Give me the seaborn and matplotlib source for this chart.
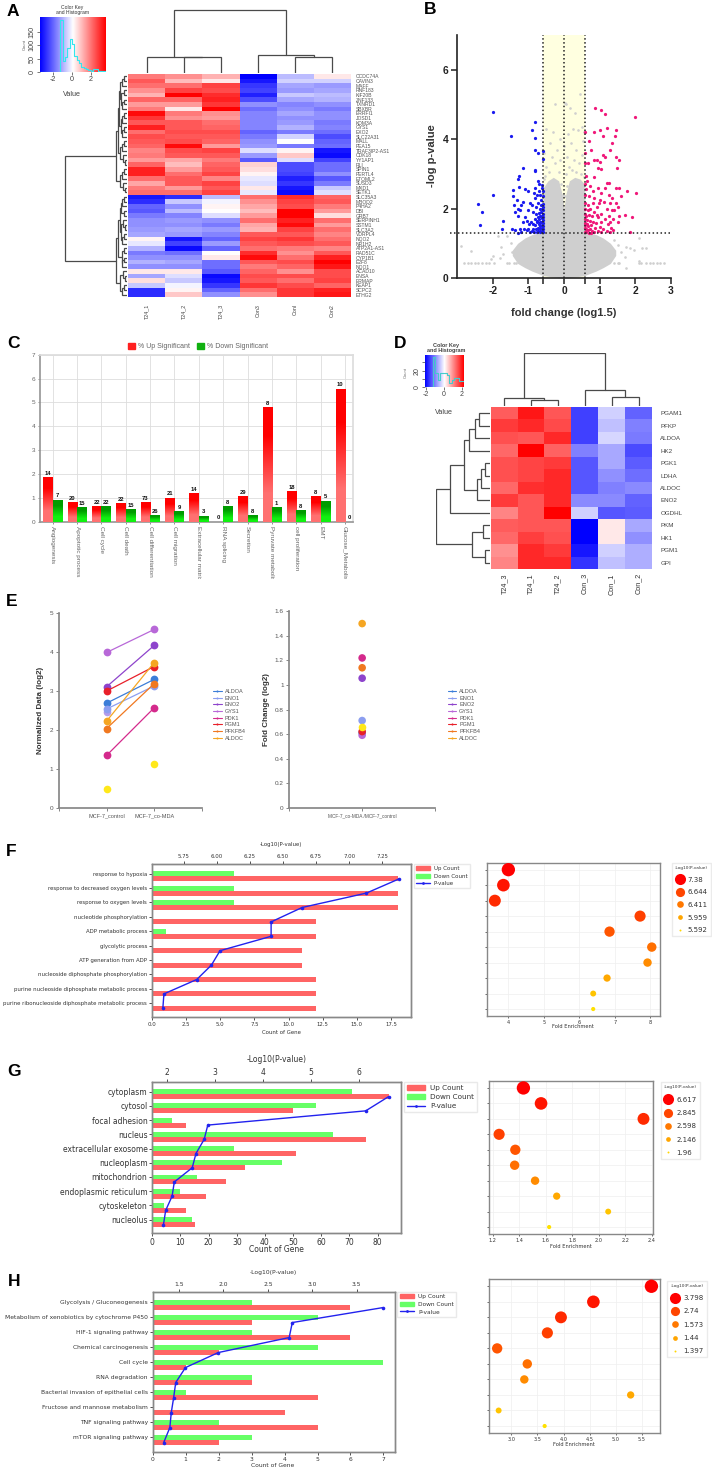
import numpy as np
import pandas as pd
import matplotlib
matplotlib.use('Agg')
import matplotlib.pyplot as plt
from matplotlib.colors import LinearSegmentedColormap
from matplotlib.lines import Line2D
from matplotlib.patches import Patch
from matplotlib.transforms import Bbox
import seaborn as sns

W, H = 712, 1468
SANS = 'Liberation Sans'

# ---- panel A data
a_genes = ['CCDC74A', 'CAVIN3', 'MAFF', 'RNF183', 'KIF20B', 'ZNF133', 'TXNRD1', 'SBXBR', 'ERRFI1', 'JOSD1',
           'KDM3A', 'GYS1', 'EXO2', 'SLC22A31', 'MALL', 'PEA15', 'TRAF3IP2-AS1', 'CDK18', 'YY1AP1', 'RLI',
           'SPIN1', 'PERTL4', 'ETOML2', 'SUSD3', 'MXD1', 'SETK1', 'SLC35A3', 'MBOD2', 'P4HA2', 'DBI',
           'GRB7', 'SERPINH1', 'SSTM1', 'SLC3A2', 'VDRPL4', 'NQO2', 'NR1H2', 'ATP2A1-AS1', 'RAD51C', 'CYP1B1',
           'E2F8', 'NQO1', 'ACAD10', 'ENSA', 'ERMAP', 'KEAP1', 'SCPC2', 'ETHG2']
a_t24_1 = [1.2, 1.5, 1.3, 1.0, 0.7, 1.4, 0.9, 1.2, 2.2, 1.8, 1.5, 2.0, 1.3, 1.6, 1.5, 1.4, 1.1, 1.2, 0.9, 1.4, 2.0, 2.0, 1.3, 0.8, 1.2, 1.3,
           -2.1, -1.9, -1.4, -1.5, -1.2, -1.0, -1.0, -0.9, -0.8, 0.1, -0.2, -0.7, -1.2, -1.0, -0.7, -1.0, 0.2, -0.8, 0.3, -0.5, -1.9, -1.9]
a_t24_2 = [1.0, 0.6, 1.3, 1.7, 2.3, 1.4, 0.9, 0.2, 1.2, 1.0, 1.5, 1.5, 1.6, 1.5, 1.6, 2.2, 1.6, 1.5, 0.8, 0.6, 0.9, 1.3, 1.5, 1.5, 0.9, 1.3,
           -1.9, -0.5, -1.0, -0.6, -1.1, -0.9, -1.0, -0.8, -0.9, -2.1, -1.7, -2.2, -1.3, -1.0, -0.8, -1.0, 0.2, -0.3, -0.5, -0.1, 0.1, 0.5]
a_t24_3 = [0.7, 0.2, 1.7, 1.6, 1.9, 2.0, 1.8, 2.4, 1.0, 0.9, 1.3, 1.4, 1.6, 1.5, 1.4, 0.9, 1.7, 1.5, 1.2, 1.4, 1.5, 1.7, 1.1, 1.7, 1.5, 1.7,
           -0.6, -0.1, 0.1, 0.0, -0.3, -1.0, -1.2, -0.9, -1.1, -1.4, -0.9, -1.4, 0.0, 0.2, -1.3, -1.3, -1.5, -2.2, -2.1, -1.8, -1.4, -1.0]
a_con3 = [-2.3, -2.1, -1.8, -1.7, -2.0, -1.6, -1.0, -1.3, -1.1, -1.1, -1.1, -1.1, -1.4, -1.2, -1.0, -0.9, -0.3, -0.9, -1.5, 0.4, 0.3, 0.1, -0.2, -0.3, 0.2, -0.2,
          1.3, 1.0, 0.8, 0.6, 0.9, 1.3, 0.8, 0.7, 1.5, 1.7, 1.5, 1.3, 1.9, 2.2, 1.5, 1.2, 1.4, 1.6, 1.5, 1.8, 1.3, 1.0]
a_conl = [-0.6, -0.4, -0.8, -0.9, -0.5, -0.8, -1.1, -1.0, -0.8, -1.0, -0.9, -0.7, -1.2, -0.4, 0.0, -1.2, 0.1, 0.5, -0.3, -1.6, -1.6, -1.7, -2.0, -1.8, -2.1, -2.2,
          1.9, 1.7, 1.6, 2.3, 2.4, 2.0, 2.2, 1.7, 1.5, 1.8, 1.6, 1.2, 1.0, 1.3, 1.6, 1.4, 1.0, 1.6, 1.3, 1.6, 1.8, 1.8]
a_con2 = [0.2, -0.4, -0.9, -0.8, -0.6, -0.7, -1.0, -1.2, -1.0, -1.0, -1.2, -1.1, -1.3, -1.6, -1.4, -1.3, -2.1, -2.2, -1.7, -1.3, -1.3, -1.0, -1.5, -1.2, -0.5, -0.3,
          1.4, 1.5, 1.2, 0.9, 0.3, 1.3, 0.9, 1.3, 1.1, 1.3, 1.5, 1.1, 1.5, 2.0, 2.3, 2.1, 1.6, 1.6, 1.7, 1.4, 2.0, 2.1]
a_samples = ['T24_1', 'T24_2', 'T24_3', 'Con3', 'Conl', 'Con2']
a_hist_edges = [-3.4, -1.25, -1.0, -0.75, -0.5, -0.25, 0, 0.25, 0.5, 0.75, 1, 1.25, 1.5, 1.75, 2, 2.25, 2.5, 2.75, 3, 3.6]
a_hist_counts = [0, 192, 42, 57, 91, 122, 105, 60, 45, 32, 20, 14, 10, 7, 5, 10, 10, 5, 5]

# dendrograms: (height, left, right), a 0 is a leaf
q2 = (.05, 0, 0)
q3 = (.08, (.05, 0, 0), 0)
q3b = (.07, 0, (.04, 0, 0))
a_upper = (.18, (.15, (.13, (.11, q3, (.09, q2, q3)), (.10, q3, q3)), (.12, q3, q3b)), (.12, q3, q3b))
a_lower = (.18, (.14, (.12, (.09, q3, q2), (.10, q3b, q3)), (.08, q2, q3)), (.11, q3b, q3))
a_row_tree = (1.0, a_upper, a_lower)
a_col_tree = (1.0, (.26, 0, (.25, 0, 0)), (.28, 0, (.245, 0, 0)))

cloud_x = [-1.45, -1.3, -1.1, -.9, -.7, -.6, -.58, -.45, -.3, -.15, -.05, 0, .05, .15, .3, .45, .58, .6, .7, .9, 1.1, 1.3, 1.45]
cloud_low = [.65, .42, .3, .2, .12, .08, .07, .05, .03, .01, 0, 0, 0, .01, .03, .05, .07, .08, .12, .2, .3, .42, .65]
cloud_high = [.8, 1.0, 1.15, 1.25, 1.3, 1.3, 2.6, 2.8, 2.9, 2.8, 2.4, 2.0, 2.4, 2.8, 2.9, 2.85, 2.7, 1.3, 1.3, 1.25, 1.15, 1.0, .8]
gray_points = [(-2.8, .42), (-2.7, .42), (-2.6, .42), (-2.5, .42), (-2.4, .42), (-2.3, .42), (-2.2, .42), (-2.1, .42), (-1.95, .42),
               (-1.6, .42), (-1.55, .42), (-1.4, .42), (-1.35, .42), (1.4, .42), (1.5, .42), (1.55, .42), (2.1, .42), (2.15, .42), (2.3, .42),
               (2.4, .42), (2.5, .42), (2.6, .42), (2.7, .42), (2.8, .42), (-2.9, .92), (-2.6, .78), (-2.0, .62), (-1.8, .58), (-1.78, .9),
               (-1.85, 1.2), (-1.6, 1.2), (-1.5, 1.0), (-1.45, .75), (-1.7, .7), (-2.05, .55), (1.7, .6), (1.75, .9), (1.85, .85), (1.95, .8),
               (2.1, 1.15), (2.2, .85), (2.3, .85), (1.5, .95), (1.6, .75), (1.75, .3), (2.1, .5), (1.4, 1.1),
               (-.25, 5.0), (.03, 5.05), (.05, 5.0), (.18, 4.9), (.3, 4.75), (.45, 5.3), (-.5, 4.3), (-.3, 4.2), (-.1, 4.0), (.1, 4.15), (.25, 4.3),
               (.4, 4.25), (.5, 4.35), (.55, 4.2), (-.4, 3.9), (-.2, 3.7), (.0, 3.8), (.2, 3.9), (.35, 3.7), (.52, 3.95), (-.55, 3.6), (-.35, 3.5),
               (-.25, 3.3), (-.1, 3.4), (.08, 3.5), (.15, 3.2), (.28, 3.4), (.42, 3.3), (.5, 3.55), (-.5, 3.2), (-.42, 3.05), (-.15, 3.05), (.05, 3.0),
               (.22, 3.1), (.35, 3.05), (.48, 3.0), (-.52, 2.95), (.55, 2.9), (-.56, 2.85), (-.08, 2.7), (.08, 2.65), (-.03, 2.4), (.03, 2.35)]
blue_points = [(-2.0, 4.77), (-1.5, 4.1), (-2.42, 2.13), (-2.0, 2.38), (-2.3, 1.9), (-2.35, 1.52), (-1.7, 1.63), (-1.74, 1.42), (-1.45, 1.42),
               (-1.27, 2.95), (-1.15, 3.17), (-.82, 3.1), (-.8, 3.08), (-.82, 4.5), (-.9, 4.25), (-.8, 4.03), (-.82, 3.7), (-.72, 3.6), (-.58, 3.65),
               (-.6, 3.42), (-1.42, 2.53), (-1.25, 2.62), (-1.1, 2.55), (-1.0, 2.5), (-.72, 2.78), (-.7, 2.7), (-.62, 2.68), (-.8, 2.6), (-1.28, 2.85),
               (-.59, 1.32), (-.6, 1.4), (-.59, 1.5), (-.6, 1.58), (-.59, 1.66), (-.6, 1.75), (-.59, 1.85), (-.6, 1.95), (-.59, 2.05), (-.6, 2.12),
               (-.62, 1.35), (-.63, 1.44), (-.62, 1.53), (-.64, 1.62), (-.63, 1.72), (-.62, 1.8), (-.64, 1.9), (-.63, 2.0), (-.65, 2.1), (-.66, 1.32),
               (-.67, 1.42), (-.68, 1.5), (-.66, 1.6), (-.69, 1.7), (-.67, 1.78), (-.7, 1.88), (-.68, 1.98), (-.72, 1.35), (-.74, 1.45), (-.71, 1.55),
               (-.75, 1.65), (-.73, 1.75), (-.76, 1.32), (-.78, 1.4), (-.8, 1.52), (-.77, 1.6), (-.82, 1.7), (-.79, 1.85), (-.84, 1.33), (-.87, 1.42),
               (-.9, 1.36), (-.86, 1.55), (-.92, 1.6), (-.95, 1.33), (-1.0, 1.42), (-1.05, 1.38), (-.98, 1.55), (-.88, 1.9), (-.78, 2.05), (-.72, 2.15),
               (-.64, 2.25), (-.6, 2.35), (-.66, 2.4), (-.6, 2.5), (-.7, 2.5), (-.62, 2.6), (-.75, 2.4), (-.82, 2.3), (-.9, 2.1), (-1.0, 1.95),
               (-1.08, 1.75), (-1.15, 1.6), (-1.2, 1.33), (-1.3, 1.3), (-1.22, 1.42), (-1.3, 1.78), (-1.38, 1.9), (-1.4, 2.1), (-1.3, 2.0), (-1.2, 2.1),
               (-1.22, 1.95), (-1.15, 2.2), (-1.32, 2.25), (-1.42, 2.35), (-.95, 2.15), (-.85, 2.45), (-1.12, 1.42), (-1.38, 1.38), (-1.05, 1.65)]
pink_points = [(.88, 4.9), (1.05, 4.85), (1.15, 4.72), (1.98, 4.63), (.6, 4.2), (.85, 4.22), (1.02, 4.25), (1.2, 4.33), (1.47, 4.25), (1.1, 4.1),
               (1.42, 4.1), (.7, 3.95), (1.35, 3.88), (.75, 3.7), (1.3, 3.68), (.58, 3.6), (1.1, 3.55), (1.15, 3.5), (1.45, 3.48), (1.55, 3.4),
               (.68, 3.3), (.85, 3.4), (.92, 3.4), (1.0, 3.35), (1.48, 3.18), (.6, 3.3), (.95, 3.18), (1.05, 3.15), (.62, 2.95), (.65, 2.8), (.85, 2.9),
               (1.2, 2.75), (1.27, 2.75), (1.15, 2.6), (1.45, 2.6), (1.55, 2.6), (1.78, 2.52), (2.02, 2.45), (1.6, 2.35), (1.9, 1.75), (1.72, 1.82),
               (1.55, 1.78), (1.5, 1.6), (1.85, 1.32), (.6, 2.7), (.63, 2.55), (.72, 2.65), (.8, 2.5), (.95, 2.6), (1.05, 2.45), (1.25, 2.4), (1.35, 2.3),
               (.6, 2.4), (.7, 2.35), (.85, 2.3), (1.0, 2.25), (1.12, 2.2), (1.3, 2.15), (1.45, 2.15), (1.5, 2.05), (.6, 2.15), (.68, 2.1), (.8, 2.15),
               (.92, 2.05), (.98, 2.15), (1.2, 2.0), (1.35, 1.95), (.6, 2.0), (.66, 1.95), (.72, 1.98), (.85, 1.9), (1.05, 1.85), (1.25, 1.8),
               (1.38, 1.7), (.59, 1.85), (.62, 1.8), (.7, 1.82), (.78, 1.78), (.95, 1.75), (1.15, 1.7), (1.3, 1.6), (.6, 1.7), (.65, 1.68), (.72, 1.65),
               (.82, 1.62), (.9, 1.58), (1.05, 1.6), (1.22, 1.55), (.59, 1.58), (.64, 1.55), (.68, 1.5), (.76, 1.52), (.88, 1.45), (1.0, 1.48),
               (1.1, 1.42), (1.32, 1.45), (.59, 1.45), (.62, 1.42), (.66, 1.38), (.72, 1.4), (.78, 1.36), (.84, 1.33), (.95, 1.35), (1.05, 1.32),
               (1.2, 1.34), (1.3, 1.32), (.59, 1.33), (.63, 1.32), (.69, 1.31), (.75, 1.3), (1.37, 1.38), (.6, 1.52), (.92, 1.82), (1.4, 1.95)]

# ---- panel C data
c_terms = ['Angiogenesis', 'Apoptotic process', 'Cell cycle', 'Cell death', 'Cell differentiation', 'Cell migration',
           'Extracellular matrix', 'RNA splicing', 'Secretion', 'Pyruvate metabolism', 'cell proliferation', 'EMT', 'Glucose_Metabolism']
c_up = [1.85, .8, .63, .77, .8, 1.0, 1.2, 0, 1.05, 4.8, 1.27, 1.07, 5.57]
c_down = [.92, .6, .63, .52, .27, .43, .25, .63, .28, .6, .47, .88, 0]
c_up_n = [14, 20, 22, 22, 73, 21, 14, 0, 29, 8, 18, 8, 10]
c_down_n = [7, 15, 22, 15, 26, 9, 3, 8, 8, 1, 8, 5, 0]

# ---- panel D data
d_genes = ['PGAM1', 'PFKP', 'ALDOA', 'HK2', 'PGK1', 'LDHA', 'ALDOC', 'ENO2', 'OGDHL', 'PKM', 'HK1', 'PGM1', 'GPI']
d_samples = ['T24_3', 'T24_1', 'T24_2', 'Con_3', 'Con_1', 'Con_2']
d_t24_3 = [1.4, 1.7, 1.5, 1.3, 1.5, 1.5, 1.3, 1.7, 1.05, 1.4, 1.3, .95, 1.05]
d_t24_1 = [2.0, 1.85, 1.45, 2.2, 1.6, 1.6, 1.8, 1.45, 1.45, 1.45, 1.65, 1.85, 1.85]
d_t24_2 = [1.45, 1.55, 1.85, 1.35, 1.7, 1.85, 1.85, 1.85, 2.2, 1.45, 1.5, 1.7, 1.85]
d_con_3 = [-1.65, -1.65, -1.65, -1.1, -1.45, -1.45, -1.45, -1.0, -.4, -2.2, -2.2, -2.0, -1.75]
d_con_1 = [-.4, -.55, -.35, -.75, -.75, -.95, -1.1, -1.0, -1.45, .2, .2, -.4, -.55]
d_con_2 = [-1.35, -1.1, -1.15, -1.55, -1.4, -1.25, -1.0, -1.35, -1.4, -.75, -.95, -.7, -.7]
d_hist_edges = [-2.15, -1.3, -1.0, -.65, -.4, .3, .55, .85, 1.1, 1.75, 2.26]
d_hist_counts = [0, 37, 17, 8, 17, 15, 5, 8, 11, 7]
d_row_tree = (1.0, (.74, (.485, (.39, (.28, (.21, 0, 0), 0), 0), (.236, (.176, (.085, 0, 0), 0), 0)), 0),
              (.327, (.133, 0, 0), (.10, 0, 0)))
d_col_tree = (1.0, (.146, 0, (.122, 0, 0)), (.293, 0, (.165, 0, 0)))

# ---- panel E data
e_genes = ['ALDOA', 'ENO1', 'ENO2', 'GYS1', 'PDK1', 'PGM1', 'PFKFB4', 'ALDOC']
e_colors = ['#3B7DD8', '#8C9EF0', '#8E44CC', '#B868D8', '#D42A8C', '#E8202A', '#F07820', '#F5A623']
e_control = [2.68, 2.53, 3.1, 3.98, 1.34, 2.99, 2.03, 2.22]
e_comda = [3.29, 3.12, 4.16, 4.57, 2.56, 3.62, 3.18, 3.72]
e_fold = [.61, .71, 1.055, .59, 1.22, .62, 1.14, 1.5]
e_yellow = [.48, 1.12]
e_yellow_fold = .655
e_lavender = 2.46

# ---- panel F data
f_terms = ['response to hypoxia', 'response to decreased oxygen levels', 'response to oxygen levels', 'nucleotide phosphorylation',
           'ADP metabolic process', 'glycolytic process', 'ATP generation from ADP', 'nucleoside diphosphate phosphorylation',
           'purine nucleoside diphosphate metabolic process', 'purine ribonucleoside diphosphate metabolic process']
f_up = [18, 18, 18, 12, 12, 11, 11, 12, 12, 12]
f_down = [6, 6, 6, 0, 1, 0, 0, 0, 0, 0]
f_p = [7.38, 7.13, 6.644, 6.41, 6.41, 6.024, 5.959, 5.848, 5.6, 5.592]
f_enrich = [4.0, 3.86, 3.62, 7.71, 6.85, 8.04, 7.92, 6.78, 6.39, 6.39]
f_legend = ['7.38', '6.644', '6.411', '5.959', '5.592']

# ---- panel G data
g_terms = ['cytoplasm', 'cytosol', 'focal adhesion', 'nucleus', 'extracellular exosome', 'nucleoplasm', 'mitochondrion',
           'endoplasmic reticulum', 'cytoskeleton', 'nucleolus']
g_up = [84, 50, 12, 76, 51, 33, 26, 19, 12, 15]
g_down = [71, 58, 7, 64, 29, 46, 16, 10, 4, 14]
g_p = [6.617, 6.14, 2.845, 2.77, 2.598, 2.52, 2.146, 2.1, 1.966, 1.92]
g_enrich = [1.431, 1.564, 2.336, 1.248, 1.37, 1.365, 1.519, 1.682, 2.07, 1.625]
g_legend = ['6.617', '2.845', '2.598', '2.146', '1.96']

# ---- panel H data
h_terms = ['Glycolysis / Gluconeogenesis', 'Metabolism of xenobiotics by cytochrome P450', 'HIF-1 signaling pathway',
           'Chemical carcinogenesis', 'Cell cycle', 'RNA degradation', 'Bacterial invasion of epithelial cells',
           'Fructose and mannose metabolism', 'TNF signaling pathway', 'mTOR signaling pathway']
h_up = [6, 3, 6, 2, 1, 3, 5, 4, 5, 2]
h_down = [3, 5, 3, 5, 7, 3, 1, 0, 2, 3]
h_p = [3.798, 2.775, 2.74, 1.942, 1.573, 1.463, 1.44, 1.413, 1.397, 1.328]
h_enrich = [5.68, 4.57, 3.95, 3.69, 2.73, 3.306, 3.249, 5.283, 2.758, 3.638]
h_legend = ['3.798', '2.74', '1.573', '1.44', '1.397']

sns.set_theme(style='ticks')
plt.rcParams['font.family'] = ['DejaVu Sans']
plt.rcParams['axes.unicode_minus'] = False
fig = plt.figure(figsize=(W / 100, H / 100), dpi=100)


def ax_px(x0, y0, x1, y1):
    return fig.add_axes([x0 / W, 1 - y1 / H, (x1 - x0) / W, (y1 - y0) / H])


def put(x, y, s, **kw):
    kw.setdefault('ha', 'center')
    kw.setdefault('va', 'center')
    return fig.text(x / W, 1 - y / H, s, **kw)


def draw_tree(ax, node, leaves, sideways=False):
    if node == 0:
        return next(leaves), 0.0
    h, a, b = node
    pa, ha = draw_tree(ax, a, leaves, sideways)
    pb, hb = draw_tree(ax, b, leaves, sideways)
    xs, ys = [pa, pa, pb, pb], [ha, h, h, hb]
    if sideways:
        xs, ys = ys, xs
    ax.plot(xs, ys, color='#4A4A4A', lw=0.9, solid_joinstyle='miter')
    return (pa + pb) / 2, h


def dendro(rect, tree, n, sideways=False):
    ax = ax_px(*rect)
    draw_tree(ax, tree, iter(np.arange(n) + .5), sideways)
    if sideways:
        ax.set_xlim(1.01, 0)
        ax.set_ylim(n, 0)
    else:
        ax.set_xlim(0, n)
        ax.set_ylim(0, 1.01)
    ax.axis('off')


def color_key(rect, lo, hi, edges, counts, ymax, yticks, xticks, line, fs):
    ax = ax_px(*rect)
    ax.imshow(np.linspace(0, 1, 256)[None, :], cmap='bwr', extent=[lo, hi, 0, ymax], aspect='auto')
    ax.step(edges, counts + [counts[-1]], where='post', color=line, lw=0.8)
    ax.set_xlim(lo, hi)
    ax.set_ylim(0, ymax)
    ax.set_xticks(xticks)
    ax.set_yticks(yticks)
    ax.tick_params(labelsize=fs, length=2, width=.5, pad=1, colors='#444444')
    for t in ax.get_xticklabels() + ax.get_yticklabels():
        t.set_family(SANS)
    plt.setp(ax.get_yticklabels(), rotation=90, va='center')
    ax.spines[:].set_visible(False)
    return ax


def gradient_bars(ax, container, top, bottom):
    cmap = LinearSegmentedColormap.from_list('g', [bottom, top])
    for p in container.patches:
        h = p.get_height()
        if h <= 0:
            continue
        x = p.get_x()
        ax.imshow(np.array([[1.0], [0.0]]), cmap=cmap, vmin=0, vmax=1, aspect='auto', interpolation='bilinear',
                  extent=[x, x + p.get_width(), 0, h], zorder=3)


def count_panel(rect, terms, up, down, pvals, xmax, xticks, xfmt, top_lim, top_ticks, top_fmt, ylim, fs, label_xy, top_label_xy, legend_xy, legend_fs):
    ax = ax_px(*rect)
    df = pd.DataFrame({'term': terms + terms, 'count': up + down,
                       'kind': ['Up Count'] * 10 + ['Down Count'] * 10})
    sns.barplot(data=df, y='term', x='count', hue='kind', hue_order=['Down Count', 'Up Count'], order=terms,
                palette={'Up Count': '#FF6464', 'Down Count': '#66FF66'}, width=.7, saturation=1, linewidth=0,
                legend=False, orient='h', ax=ax)
    pos = np.arange(10)
    ax.set_yticks(pos - .175, terms)
    ax.set_ylim(*ylim)
    ax.set_xlim(0, xmax)
    ax.set_xticks(xticks, [xfmt.format(v) for v in xticks])
    ax.set_xlabel('')
    ax.set_ylabel('')
    ax.tick_params(labelsize=fs, length=2, width=.6, pad=1.5, colors='#333333')
    top = ax.twiny()
    sns.lineplot(x=pvals, y=pos + .175, sort=False, estimator=None, color='#2222EE', lw=1, marker='o', markersize=2.6,
                 markeredgewidth=0, ax=top)
    top.set_ylim(*ylim)
    top.set_xlim(*top_lim)
    top.set_xticks(top_ticks, [top_fmt.format(v) for v in top_ticks])
    top.tick_params(labelsize=fs, length=2, width=.6, pad=1.5, colors='#333333')
    top.set_ylabel('')
    for a in (ax, top):
        for s in a.spines.values():
            s.set_color('#888888')
            s.set_linewidth(1.0)
    put(*label_xy, 'Count of Gene', fontsize=fs, color='#333333')
    put(*top_label_xy, '-Log10(P-value)', fontsize=fs, color='#333333')
    handles = [Patch(color='#FF6464'), Patch(color='#66FF66'),
               Line2D([0], [0], color='#2222EE', lw=1, marker='o', ms=2, mew=0)]
    fig.legend(handles, ['Up Count', 'Down Count', 'P-value'], loc='upper left', fontsize=legend_fs,
               bbox_to_anchor=(legend_xy[0] / W, 1 - legend_xy[1] / H), borderaxespad=0, frameon=True, edgecolor='#E4E4E4',
               fancybox=False, labelspacing=.45, handlelength=2.4, handletextpad=.8, borderpad=.4, labelcolor='#333333')


hot = sns.blend_palette(['#FFE000', '#FFA000', '#FF6000', '#FF3000', '#FF0000'], as_cmap=True)
legend_colors = ['#FF0000', '#FF4500', '#FF7800', '#FFA500', '#FFD700']
legend_sizes = [8, 6.6, 4.8, 3.4, 1.4]


def bubble_panel(rect, enrich, xlim, xticks, xfmt, ylim, label_xy, legend_terms, legend_xy, row_gap):
    ax = ax_px(*rect)
    df = pd.DataFrame({'enrich': enrich, 'row': np.arange(10), 'rank': np.arange(10)[::-1]})
    sns.scatterplot(data=df, x='enrich', y='row', hue='rank', size='rank', sizes=(9, 92), palette=hot, linewidth=0,
                    legend=False, zorder=3, ax=ax)
    ax.set_xlim(*xlim)
    ax.set_ylim(*ylim)
    ax.set_xticks(xticks, [xfmt.format(v) for v in xticks])
    ax.set_yticks(np.arange(10), [''] * 10)
    ax.grid(color='#EFEFEF', lw=.5)
    ax.set_axisbelow(True)
    ax.set_xlabel('')
    ax.set_ylabel('')
    ax.tick_params(labelsize=3.6, length=1.5, width=.5, pad=1.5, colors='#333333')
    for s in ax.spines.values():
        s.set_color('#888888')
        s.set_linewidth(1.0)
    put(*label_xy, 'Fold Enrichment', fontsize=3.7, color='#333333')
    handles = [Line2D([0], [0], ls='', marker='o', ms=m, mew=0, color=c) for m, c in zip(legend_sizes, legend_colors)]
    leg = fig.legend(handles, legend_terms, title='-Log10(P-value)', loc='upper left', fontsize=5, title_fontsize=3.1,
                     bbox_to_anchor=(legend_xy[0] / W, 1 - legend_xy[1] / H), borderaxespad=0, frameon=True, edgecolor='#E6E6E6',
                     fancybox=False, labelspacing=row_gap, handlelength=1.3, handletextpad=.5, borderpad=.45, labelcolor='#333333')
    leg.get_title().set_color('#333333')


# ---- panel A
a_df = pd.DataFrame(dict(zip(a_samples, [a_t24_1, a_t24_2, a_t24_3, a_con3, a_conl, a_con2])), index=a_genes)
ax = ax_px(128, 74, 351, 297)
sns.heatmap(a_df, cmap='bwr', vmin=-2.3, vmax=2.3, cbar=False, xticklabels=True, yticklabels=True, ax=ax)
ax.yaxis.tick_right()
ax.tick_params(length=0, pad=3.5, labelsize=3.6, colors='#555555')
ax.tick_params(axis='x', pad=5, labelsize=3.9, colors='#444444')
plt.setp(ax.get_yticklabels(), rotation=0, family=SANS)
plt.setp(ax.get_xticklabels(), rotation=90, family=SANS)
dendro((128, 9, 351, 73), a_col_tree, 6)
dendro((64, 74, 127, 297), a_row_tree, len(a_genes), sideways=True)
color_key((40, 17, 106, 72), -3.43, 3.64, a_hist_edges, a_hist_counts, 205, [0, 50, 100, 150], [-2, 0, 2], '#33E6EE', 5.2)
put(72, 10, 'Color Key\nand Histogram', fontsize=3.6, family=SANS, color='#333333', linespacing=1.05)
put(25, 45, 'Count', fontsize=3, family=SANS, rotation=90, color='#555555')
put(72, 94, 'Value', fontsize=5.2, family=SANS, color='#444444')

# ---- panel B
ax = ax_px(457, 35, 671, 278)
ax.axvspan(-.585, .585, color='#FFFFE0', lw=0, zorder=0)
ax.fill_between(cloud_x, cloud_low, cloud_high, color='#CFCFCF', lw=0, zorder=1)
for pts, col, area in ((gray_points, '#CFCFCF', 3.6), (blue_points, '#1A1AF0', 5.4), (pink_points, '#F0187A', 5.4)):
    px, py = zip(*pts)
    sns.scatterplot(x=list(px), y=list(py), color=col, s=area, linewidth=0, zorder=2, ax=ax)
for v in (-.585, 0, .585):
    ax.axvline(v, color='#222222', ls=(0, (1, 1.6)), lw=1.1, zorder=3)
ax.plot([-3.2, 3], [1.3, 1.3], color='#222222', ls=(0, (1, 1.6)), lw=1.1, zorder=3, clip_on=False)
ax.set_xlim(-3, 3)
ax.set_ylim(0, 7)
ax.set_xticks([-2, -1, -.585, 0, .585, 1, 2, 3], ['-2', '-1', '', '0', '', '1', '2', '3'])
ax.set_yticks([0, 2, 4, 6])
ax.tick_params(length=4, width=1.1, pad=2, labelsize=7.4, colors='#222222')
plt.setp(ax.get_xticklabels() + ax.get_yticklabels(), family=SANS, weight='bold')
sns.despine(ax=ax)
ax.spines[['left', 'bottom']].set_linewidth(1.2)
ax.spines[['left', 'bottom']].set_color('#222222')
put(564, 313, 'fold change (log1.5)', fontsize=8, family=SANS, weight='bold', color='#333333')
put(432, 156, '-log p-value', fontsize=8, family=SANS, weight='bold', rotation=90, color='#333333')

# ---- panel C
ax = ax_px(39.5, 354.7, 353.3, 521.7)
c_df = pd.DataFrame({'term': c_terms + c_terms, 'pct': c_up + c_down,
                     'kind': ['up'] * 13 + ['down'] * 13})
sns.barplot(data=c_df, x='term', y='pct', hue='kind', order=c_terms, hue_order=['up', 'down'], width=.77, saturation=1, linewidth=0,
            palette={'up': '#FF3030', 'down': '#10C010'}, legend=False, ax=ax)
gradient_bars(ax, ax.containers[0], '#FF0000', '#FF7070')
gradient_bars(ax, ax.containers[1], '#009C00', '#10F010')
ax.set_xlim(-.54, 12.34)
ax.set_ylim(0, 7)
ax.set_axisbelow(True)
ax.grid(color='#DDDDDD', lw=.6)
ax.set_xlabel('')
ax.set_ylabel('')
ax.tick_params(length=1.5, width=.5, pad=1.5, labelsize=4.6, colors='#666666')
c_clip = Bbox.from_extents(0, H - 579, W, H)
for t in ax.get_xticklabels():
    t.set_rotation(-90)
    t.set_family(SANS)
    t.set_clip_box(c_clip)
    t.set_clip_on(True)
plt.setp(ax.get_yticklabels(), family=SANS)
for s in ax.spines.values():
    s.set_color('#DDDDDD')
ax.spines[['left', 'bottom']].set_color('#999999')
for cont, ns in ((ax.containers[0], c_up_n), (ax.containers[1], c_down_n)):
    ax.bar_label(cont, labels=[str(n) for n in ns], fontsize=4.2, fontweight='bold', color='#111111', padding=1, family=SANS)
fig.legend([Patch(color='#FF2020'), Patch(color='#10B010')], ['% Up Significant', '% Down Significant'], loc='center',
           bbox_to_anchor=(198 / W, 1 - 346.7 / H), ncol=2, frameon=False, handlelength=1, handleheight=.9,
           handletextpad=.5, columnspacing=.9, labelcolor='#666666', prop={'family': SANS, 'size': 5})

# ---- panel D
d_df = pd.DataFrame(dict(zip(d_samples, [d_t24_3, d_t24_1, d_t24_2, d_con_3, d_con_1, d_con_2])), index=d_genes)
ax = ax_px(490.7, 407, 652, 569)
sns.heatmap(d_df, cmap='bwr', vmin=-2.2, vmax=2.2, cbar=False, xticklabels=True, yticklabels=True, ax=ax)
ax.yaxis.tick_right()
ax.tick_params(length=0, pad=6, labelsize=4.5, colors='#444444')
ax.tick_params(axis='x', pad=3, labelsize=5.2, colors='#333333')
plt.setp(ax.get_yticklabels(), rotation=0, family=SANS)
plt.setp(ax.get_xticklabels(), rotation=90, family=SANS)
dendro((490.7, 352.5, 652, 406), d_col_tree, 6)
dendro((435.7, 407, 490, 569), d_row_tree, 13, sideways=True)
d_key = color_key((425, 355, 464, 387), -2.15, 2.26, d_hist_edges, d_hist_counts, 39, [0, 10, 20, 30], [-2, 0, 2], '#44CCCC', 5)
d_key.set_yticklabels(['0', '', '20', ''])
put(446, 348, 'Color Key\nand Histogram', fontsize=4, family=SANS, weight='bold', color='#444444', linespacing=1.05)
put(406, 373, 'Count', fontsize=3, family=SANS, rotation=90, color='#666666')
put(444, 413, 'Value', fontsize=5.2, family=SANS, color='#444444')

# ---- panel E
e_colors_map = dict(zip(e_genes, e_colors))
ax = ax_px(59, 612.7, 201.7, 807.7)
e_df = pd.DataFrame({'gene': e_genes * 2, 'pos': [1] * 8 + [2] * 8, 'value': e_control + e_comda})
sns.lineplot(data=e_df, x='pos', y='value', hue='gene', hue_order=e_genes, palette=e_colors_map, estimator=None, lw=.9,
             marker='o', markersize=5.6, markeredgewidth=0, legend=False, ax=ax)
sns.scatterplot(x=[1, 2], y=e_yellow, color='#FFE81A', s=30, linewidth=0, ax=ax)
sns.scatterplot(x=[1], y=[e_lavender], color='#B49CEB', s=30, linewidth=0, ax=ax)
ax.set_xlim(0, 3)
ax.set_ylim(0, 5)
ax.set_xticks([0, 1, 2, 3], ['', 'MCF-7_control', 'MCF-7_co-MDA', ''])
ax.set_xlabel('')
ax.set_ylabel('')
ax.tick_params(length=2, width=.5, pad=2, labelsize=4, colors='#555555')
ax.tick_params(axis='y', labelsize=4.6)
plt.setp(ax.get_xticklabels() + ax.get_yticklabels(), family=SANS)
sns.despine(ax=ax)
ax.spines[['left', 'bottom']].set_color('#888888')
put(41, 710, 'Normalized Data (log2)', fontsize=5.8, family=SANS, weight='bold', rotation=90, color='#333333')

ax = ax_px(289.3, 611.3, 435, 807.7)
sns.scatterplot(x=[0] * 8, y=e_fold, hue=e_genes, hue_order=e_genes, palette=e_colors_map, s=30, linewidth=0, legend=False, ax=ax)
sns.scatterplot(x=[0], y=[e_yellow_fold], color='#FFE81A', s=30, linewidth=0, ax=ax)
ax.set_xlim(-1, 1)
ax.set_ylim(0, 1.6)
ax.set_xticks([-1, 0, 1], ['', 'MCF-7_co-MDA /MCF-7_control', ''])
ax.set_yticks([0, .2, .4, .6, .8, 1, 1.2, 1.4, 1.6], ['0', '0.2', '0.4', '0.6', '0.8', '1', '1.2', '1.4', '1.6'])
ax.tick_params(length=2, width=.5, pad=2, labelsize=3.4, colors='#555555')
ax.tick_params(axis='y', labelsize=4.6)
plt.setp(ax.get_xticklabels() + ax.get_yticklabels(), family=SANS)
sns.despine(ax=ax)
ax.spines[['left', 'bottom']].set_color('#888888')
put(266, 710, 'Fold Change (log2)', fontsize=5.8, family=SANS, weight='bold', rotation=90, color='#333333')

e_handles = [Line2D([0], [0], color=c, lw=.8, marker='o', ms=1.5, mew=0) for c in e_colors]
for lx in (213, 447.5):
    fig.legend(e_handles, e_genes, loc='upper left', bbox_to_anchor=(lx / W, 1 - 689 / H), borderaxespad=0, borderpad=0,
               frameon=False, labelspacing=.3, handlelength=1.6, handletextpad=.5, labelcolor='#555555',
               prop={'family': SANS, 'size': 4})

# ---- panels F, G, H
count_panel((152, 864.3, 411, 1017.3), f_terms, f_up, f_down, f_p, 18.96, [0, 2.5, 5, 7.5, 10, 12.5, 15, 17.5], '{:.1f}',
            (5.51, 7.467), [5.75, 6, 6.25, 6.5, 6.75, 7, 7.25], '{:.2f}', (9.8, -.825), 3.9, (281, 1032), (281, 844), (414, 864), 4)
bubble_panel((486.7, 862.7, 660.3, 1016), f_enrich, (3.39, 8.28), [4, 5, 6, 7, 8], '{:d}', (9.45, -.45), (573, 1027), f_legend, (671.7, 863), .95)

count_panel((152.3, 1082, 401, 1233.3), g_terms, g_up, g_down, g_p, 88.3, list(range(0, 81, 10)), '{:d}',
            (1.687, 6.877), [2, 3, 4, 5, 6], '{:d}', (9.785, -.855), 5.5, (276.7, 1249), (276.7, 1059), (404.3, 1081.7), 5.2)
bubble_panel((489.3, 1080.7, 653.3, 1234), g_enrich, (1.174, 2.41), [1.2, 1.4, 1.6, 1.8, 2.0, 2.2, 2.4], '{:.1f}', (9.45, -.47), (571, 1246), g_legend, (660.7, 1082.3), 1.05)

count_panel((152.7, 1292.3, 395, 1452.3), h_terms, h_up, h_down, h_p, 7.35, list(range(0, 8)), '{:d}',
            (1.204, 3.931), [1.5, 2, 2.5, 3, 3.5], '{:.1f}', (9.825, -.842), 4.3, (273, 1465.7), (273, 1272.7), (397.3, 1291.7), 4.2)
bubble_panel((488.7, 1279.3, 660.3, 1433), h_enrich, (2.568, 5.85), [3, 3.5, 4, 4.5, 5, 5.5], '{:.1f}', (9.45, -.45), (574, 1445), h_legend, (667.3, 1280.7), 1.05)

for letter, x, y in (('A', 13, 11), ('B', 430, 10), ('C', 13, 344), ('D', 400, 344), ('E', 12, 601), ('F', 11, 851), ('G', 14, 1071), ('H', 14, 1281)):
    put(x, y, letter, fontsize=12.5, family=SANS, weight='bold', color='black')

fig.savefig('out.png', dpi=100)
